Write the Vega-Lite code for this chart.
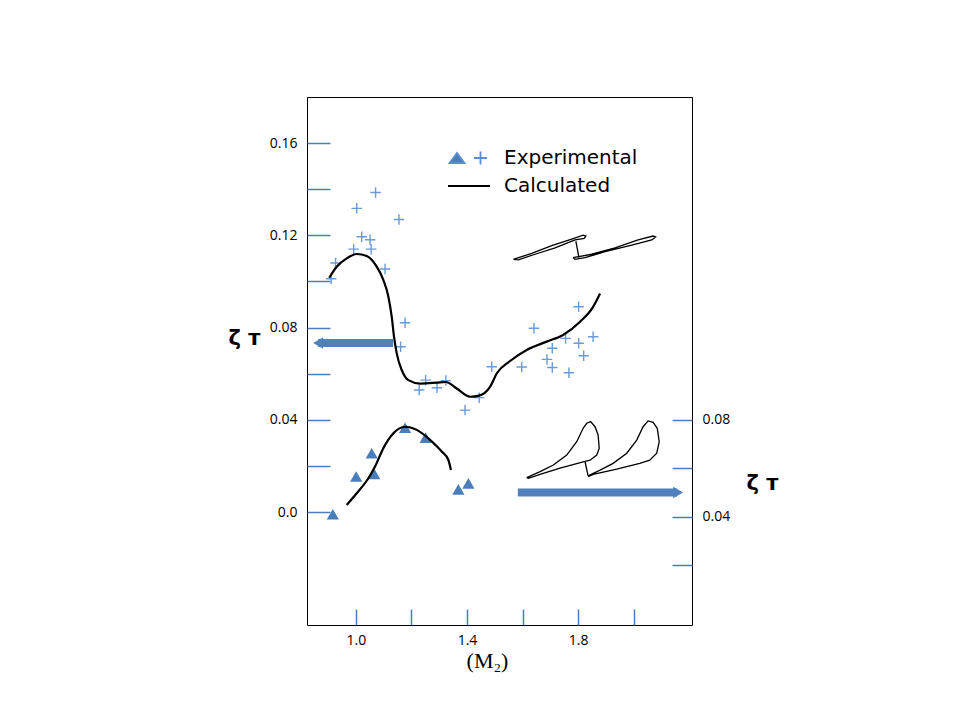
{
  "$schema": "https://vega.github.io/schema/vega-lite/v6.json",
  "width": 385,
  "height": 528,
  "autosize": {"type": "none"},
  "padding": {"left": 307, "top": 97, "right": 268, "bottom": 95},
  "background": "white",
  "datasets": {
    "crosses": [
      {"M": 0.911, "zeta": 0.1012}, {"M": 0.927, "zeta": 0.108}, {"M": 0.992, "zeta": 0.114},
      {"M": 1.003, "zeta": 0.1317}, {"M": 1.021, "zeta": 0.1194}, {"M": 1.051, "zeta": 0.1181},
      {"M": 1.055, "zeta": 0.114}, {"M": 1.071, "zeta": 0.1386}, {"M": 1.105, "zeta": 0.1054},
      {"M": 1.155, "zeta": 0.1269}, {"M": 1.177, "zeta": 0.0821}, {"M": 1.161, "zeta": 0.0717},
      {"M": 1.228, "zeta": 0.0529}, {"M": 1.251, "zeta": 0.0572}, {"M": 1.292, "zeta": 0.0539},
      {"M": 1.324, "zeta": 0.057}, {"M": 1.393, "zeta": 0.0442}, {"M": 1.444, "zeta": 0.0496},
      {"M": 1.489, "zeta": 0.063}, {"M": 1.597, "zeta": 0.0629}, {"M": 1.641, "zeta": 0.0797},
      {"M": 1.688, "zeta": 0.0662}, {"M": 1.707, "zeta": 0.071}, {"M": 1.707, "zeta": 0.0627},
      {"M": 1.755, "zeta": 0.0753}, {"M": 1.767, "zeta": 0.0604}, {"M": 1.802, "zeta": 0.089},
      {"M": 1.802, "zeta": 0.0732}, {"M": 1.82, "zeta": 0.0678}, {"M": 1.854, "zeta": 0.076}
    ],
    "upper_curve": [
      {"M": 0.904, "zeta": 0.1016}, {"M": 0.931, "zeta": 0.1064}, {"M": 0.967, "zeta": 0.11},
      {"M": 1.003, "zeta": 0.1119}, {"M": 1.039, "zeta": 0.111}, {"M": 1.075, "zeta": 0.1064},
      {"M": 1.099, "zeta": 0.1006}, {"M": 1.117, "zeta": 0.0934}, {"M": 1.129, "zeta": 0.0847},
      {"M": 1.137, "zeta": 0.0763}, {"M": 1.147, "zeta": 0.0688}, {"M": 1.165, "zeta": 0.0616},
      {"M": 1.189, "zeta": 0.0572}, {"M": 1.231, "zeta": 0.0557}, {"M": 1.291, "zeta": 0.0561},
      {"M": 1.324, "zeta": 0.0564}, {"M": 1.363, "zeta": 0.0536}, {"M": 1.411, "zeta": 0.05},
      {"M": 1.443, "zeta": 0.0505}, {"M": 1.483, "zeta": 0.0543}, {"M": 1.508, "zeta": 0.0603},
      {"M": 1.555, "zeta": 0.0655}, {"M": 1.615, "zeta": 0.0703}, {"M": 1.687, "zeta": 0.0739},
      {"M": 1.746, "zeta": 0.0768}, {"M": 1.807, "zeta": 0.0825}, {"M": 1.854, "zeta": 0.089},
      {"M": 1.879, "zeta": 0.0948}
    ],
    "triangles": [
      {"M": 0.917, "zeta": 0.0411}, {"M": 1.001, "zeta": 0.0566}, {"M": 1.057, "zeta": 0.0662},
      {"M": 1.066, "zeta": 0.0577}, {"M": 1.177, "zeta": 0.0767}, {"M": 1.251, "zeta": 0.0726},
      {"M": 1.369, "zeta": 0.0513}, {"M": 1.405, "zeta": 0.0538}
    ],
    "lower_curve": [
      {"M": 0.967, "zeta": 0.0449}, {"M": 1.003, "zeta": 0.0497}, {"M": 1.045, "zeta": 0.0559},
      {"M": 1.069, "zeta": 0.0607}, {"M": 1.099, "zeta": 0.0683}, {"M": 1.135, "zeta": 0.0744},
      {"M": 1.177, "zeta": 0.0771}, {"M": 1.219, "zeta": 0.0758}, {"M": 1.267, "zeta": 0.0717},
      {"M": 1.309, "zeta": 0.0669}, {"M": 1.333, "zeta": 0.0634}, {"M": 1.342, "zeta": 0.0593}
    ],
    "left_arrow": [{"M": 0.864, "M2": 1.134, "zeta": 0.0733}],
    "right_arrow": [{"M": 1.583, "M2": 2.156, "zeta": 0.05, "head": 2.16}],
    "blades": [
      {"blade": "a", "i": 0, "M": 1.567, "zeta": 0.1096}, {"blade": "a", "i": 1, "M": 1.633, "zeta": 0.1122},
      {"blade": "a", "i": 2, "M": 1.705, "zeta": 0.1155}, {"blade": "a", "i": 3, "M": 1.777, "zeta": 0.1184},
      {"blade": "a", "i": 4, "M": 1.818, "zeta": 0.1201}, {"blade": "a", "i": 5, "M": 1.828, "zeta": 0.1197},
      {"blade": "a", "i": 6, "M": 1.822, "zeta": 0.1187}, {"blade": "a", "i": 7, "M": 1.789, "zeta": 0.118},
      {"blade": "a", "i": 8, "M": 1.717, "zeta": 0.1146}, {"blade": "a", "i": 9, "M": 1.645, "zeta": 0.1118},
      {"blade": "a", "i": 10, "M": 1.585, "zeta": 0.1094}, {"blade": "a", "i": 11, "M": 1.567, "zeta": 0.1096},
      {"blade": "b", "i": 0, "M": 1.792, "zeta": 0.1175}, {"blade": "b", "i": 1, "M": 1.803, "zeta": 0.1103},
      {"blade": "c", "i": 0, "M": 1.782, "zeta": 0.1103}, {"blade": "c", "i": 1, "M": 1.849, "zeta": 0.1118},
      {"blade": "c", "i": 2, "M": 1.933, "zeta": 0.1146}, {"blade": "c", "i": 3, "M": 2.016, "zeta": 0.118},
      {"blade": "c", "i": 4, "M": 2.07, "zeta": 0.1197}, {"blade": "c", "i": 5, "M": 2.079, "zeta": 0.1193},
      {"blade": "c", "i": 6, "M": 2.065, "zeta": 0.118}, {"blade": "c", "i": 7, "M": 1.993, "zeta": 0.1158},
      {"blade": "c", "i": 8, "M": 1.897, "zeta": 0.1129}, {"blade": "c", "i": 9, "M": 1.825, "zeta": 0.1103},
      {"blade": "c", "i": 10, "M": 1.789, "zeta": 0.1096}, {"blade": "c", "i": 11, "M": 1.782, "zeta": 0.1103},
      {"blade": "d", "i": 0, "M": 1.615, "zeta": 0.0149}, {"blade": "d", "i": 1, "M": 1.663, "zeta": 0.0175},
      {"blade": "d", "i": 2, "M": 1.711, "zeta": 0.0204}, {"blade": "d", "i": 3, "M": 1.759, "zeta": 0.0247},
      {"blade": "d", "i": 4, "M": 1.795, "zeta": 0.0305}, {"blade": "d", "i": 5, "M": 1.818, "zeta": 0.0363},
      {"blade": "d", "i": 6, "M": 1.831, "zeta": 0.0385}, {"blade": "d", "i": 7, "M": 1.845, "zeta": 0.0392},
      {"blade": "d", "i": 8, "M": 1.861, "zeta": 0.037}, {"blade": "d", "i": 9, "M": 1.872, "zeta": 0.0334},
      {"blade": "d", "i": 10, "M": 1.876, "zeta": 0.0276}, {"blade": "d", "i": 11, "M": 1.867, "zeta": 0.0247},
      {"blade": "d", "i": 12, "M": 1.843, "zeta": 0.0225}, {"blade": "d", "i": 13, "M": 1.818, "zeta": 0.0218},
      {"blade": "d", "i": 14, "M": 1.735, "zeta": 0.019}, {"blade": "d", "i": 15, "M": 1.663, "zeta": 0.0163},
      {"blade": "d", "i": 16, "M": 1.621, "zeta": 0.0146}, {"blade": "d", "i": 17, "M": 1.615, "zeta": 0.0149},
      {"blade": "e", "i": 0, "M": 1.825, "zeta": 0.0218}, {"blade": "e", "i": 1, "M": 1.836, "zeta": 0.0157},
      {"blade": "f", "i": 0, "M": 1.836, "zeta": 0.0157}, {"blade": "f", "i": 1, "M": 1.879, "zeta": 0.0182},
      {"blade": "f", "i": 2, "M": 1.926, "zeta": 0.0211}, {"blade": "f", "i": 3, "M": 1.975, "zeta": 0.0255},
      {"blade": "f", "i": 4, "M": 2.011, "zeta": 0.0312}, {"blade": "f", "i": 5, "M": 2.034, "zeta": 0.037},
      {"blade": "f", "i": 6, "M": 2.052, "zeta": 0.0395}, {"blade": "f", "i": 7, "M": 2.07, "zeta": 0.0389},
      {"blade": "f", "i": 8, "M": 2.085, "zeta": 0.0363}, {"blade": "f", "i": 9, "M": 2.092, "zeta": 0.0305},
      {"blade": "f", "i": 10, "M": 2.083, "zeta": 0.0255}, {"blade": "f", "i": 11, "M": 2.058, "zeta": 0.0225},
      {"blade": "f", "i": 12, "M": 2.022, "zeta": 0.0211}, {"blade": "f", "i": 13, "M": 1.939, "zeta": 0.0186},
      {"blade": "f", "i": 14, "M": 1.854, "zeta": 0.0163}, {"blade": "f", "i": 15, "M": 1.836, "zeta": 0.0153}
    ],
    "legend_rows": [{"series": "Experimental"}, {"series": "Calculated"}]
  },
  "layer": [
    {
      "encoding": {
        "x": {
          "field": "M", "type": "quantitative",
          "scale": {"domain": [0.824, 2.21], "nice": false, "zero": false},
          "axis": {
            "orient": "bottom",
            "values": [1, 1.2, 1.4, 1.6, 1.8, 2],
            "labelExpr": "datum.value == 1 || datum.value == 1.4 || datum.value == 1.8 ? format(datum.value, '.1f') : ''",
            "domain": false, "grid": false,
            "tickSize": -16, "tickWidth": 1.5, "tickColor": "#4A7EBB",
            "labelPadding": 24, "labelFont": "Open Sans", "labelFontSize": 14, "labelColor": "black",
            "labelFlush": false, "labelOverlap": false,
            "title": "(M₂)", "titleFont": "Liberation Serif", "titleFontSize": 22, "titleFontWeight": "normal",
            "titleColor": "black", "titleX": 180, "titleY": 35, "titleAlign": "center", "titleBaseline": "middle"
          }
        },
        "y": {
          "field": "zeta", "type": "quantitative",
          "scale": {"domain": [-0.049, 0.18], "nice": false, "zero": false},
          "axis": {
            "orient": "left",
            "values": [0, 0.02, 0.04, 0.06, 0.08, 0.1, 0.12, 0.14, 0.16],
            "labelExpr": "datum.value == 0 ? '0.0' : (round(datum.value * 100) % 4 == 0 ? format(datum.value, '.2f') : '')",
            "domain": false, "grid": false,
            "tickSize": -23, "tickWidth": 1.5, "tickColor": "#4A7EBB",
            "labelPadding": 33, "labelFont": "Open Sans", "labelFontSize": 14, "labelColor": "black",
            "labelFlush": false, "labelOverlap": false,
            "title": "ζ ᴛ", "titleFont": "DejaVu Sans", "titleFontSize": 21, "titleFontWeight": "bold",
            "titleColor": "black", "titleAngle": 0, "titleX": -63, "titleY": 241,
            "titleAlign": "center", "titleBaseline": "middle"
          }
        }
      },
      "layer": [
        {
          "data": {"name": "blades"},
          "mark": {"type": "line", "color": "black", "strokeWidth": 1.3},
          "encoding": {
            "detail": {"field": "blade", "type": "nominal"},
            "order": {"field": "i", "type": "quantitative"}
          }
        },
        {
          "data": {"name": "crosses"},
          "mark": {"type": "point", "shape": "M-1,0L1,0M0,-1L0,1", "size": 110, "filled": false, "color": "#6A9AD8", "strokeWidth": 1.4, "opacity": 1}
        },
        {
          "data": {"name": "upper_curve"},
          "mark": {"type": "line", "color": "black", "strokeWidth": 2.2, "interpolate": "monotone"}
        },
        {
          "data": {"name": "left_arrow"},
          "mark": {"type": "rule", "color": "#4F81BD", "strokeWidth": 8, "strokeCap": "butt"},
          "encoding": {"x2": {"field": "M2"}}
        },
        {
          "data": {"name": "left_arrow"},
          "mark": {"type": "point", "shape": "triangle-left", "size": 130, "filled": true, "color": "#4F81BD", "opacity": 1}
        },
        {
          "data": {"name": "legend_rows"},
          "transform": [{"filter": "false"}],
          "mark": {"type": "point", "filled": true},
          "encoding": {
            "fill": {
              "field": "series", "type": "nominal",
              "scale": {"domain": ["Experimental", "Calculated"], "range": ["#4A7EBB", "black"]},
              "legend": {"title": null}
            },
            "stroke": {
              "field": "series", "type": "nominal",
              "scale": {"domain": ["Experimental", "Calculated"], "range": ["#5B8DD0", "black"]},
              "legend": {"title": null}
            },
            "shape": {
              "field": "series", "type": "nominal",
              "scale": {"domain": ["Experimental", "Calculated"], "range": ["M-1.95,0.5L-0.45,0.5L-1.2,-0.5ZM0.5,0L1.8,0M1.15,-0.65L1.15,0.65", "M-2.1,0L2.1,0"]},
              "legend": {"title": null}
            }
          }
        }
      ]
    },
    {
      "encoding": {
        "x": {
          "field": "M", "type": "quantitative",
          "scale": {"domain": [0.824, 2.21], "nice": false, "zero": false},
          "axis": {
            "orient": "bottom",
            "values": [1, 1.2, 1.4, 1.6, 1.8, 2],
            "labelExpr": "datum.value == 1 || datum.value == 1.4 || datum.value == 1.8 ? format(datum.value, '.1f') : ''",
            "domain": false, "grid": false,
            "tickSize": -16, "tickWidth": 1.5, "tickColor": "#4A7EBB",
            "labelPadding": 24, "labelFont": "Open Sans", "labelFontSize": 14, "labelColor": "black",
            "labelFlush": false, "labelOverlap": false,
            "title": "(M₂)", "titleFont": "Liberation Serif", "titleFontSize": 22, "titleFontWeight": "normal",
            "titleColor": "black", "titleX": 180, "titleY": 35, "titleAlign": "center", "titleBaseline": "middle"
          }
        },
        "y": {
          "field": "zeta", "type": "quantitative",
          "scale": {"domain": [-0.0045, 0.2128], "nice": false, "zero": false},
          "axis": {
            "orient": "right",
            "values": [0.02, 0.04, 0.06, 0.08],
            "labelExpr": "datum.value == 0.04 || datum.value == 0.08 ? format(datum.value, '.2f') : ''",
            "domain": false, "grid": false,
            "tickSize": -20, "tickWidth": 1.5, "tickColor": "#4A7EBB",
            "labelPadding": 30, "labelFont": "Open Sans", "labelFontSize": 14, "labelColor": "black",
            "labelFlush": false, "labelOverlap": false,
            "title": "ζ ᴛ", "titleFont": "DejaVu Sans", "titleFontSize": 21, "titleFontWeight": "bold",
            "titleColor": "black", "titleAngle": 0, "titleX": 70, "titleY": 386,
            "titleAlign": "center", "titleBaseline": "middle"
          }
        }
      },
      "layer": [
        {
          "data": {"name": "triangles"},
          "mark": {"type": "point", "shape": "triangle-up", "size": 150, "filled": true, "color": "#4A7EBB", "opacity": 1}
        },
        {
          "data": {"name": "lower_curve"},
          "mark": {"type": "line", "color": "black", "strokeWidth": 2.2, "interpolate": "monotone"}
        },
        {
          "data": {"name": "right_arrow"},
          "mark": {"type": "rule", "color": "#4F81BD", "strokeWidth": 8, "strokeCap": "butt"},
          "encoding": {"x2": {"field": "M2"}}
        },
        {
          "data": {"name": "right_arrow"},
          "mark": {"type": "point", "shape": "triangle-right", "size": 130, "filled": true, "color": "#4F81BD", "opacity": 1},
          "encoding": {"x": {"field": "head", "type": "quantitative"}}
        }
      ]
    }
  ],
  "resolve": {"scale": {"y": "independent"}},
  "config": {
    "view": {"stroke": "black", "strokeWidth": 1},
    "font": "Open Sans",
    "legend": {
      "orient": "none",
      "legendX": 151,
      "legendY": 50,
      "padding": 0,
      "symbolSize": 400,
      "symbolStrokeWidth": 1.8,
      "symbolOpacity": 1,
      "labelFont": "DejaVu Sans",
      "labelFontSize": 20,
      "labelColor": "black",
      "labelOffset": 24,
      "rowPadding": 6,
      "labelLimit": 300
    }
  }
}
